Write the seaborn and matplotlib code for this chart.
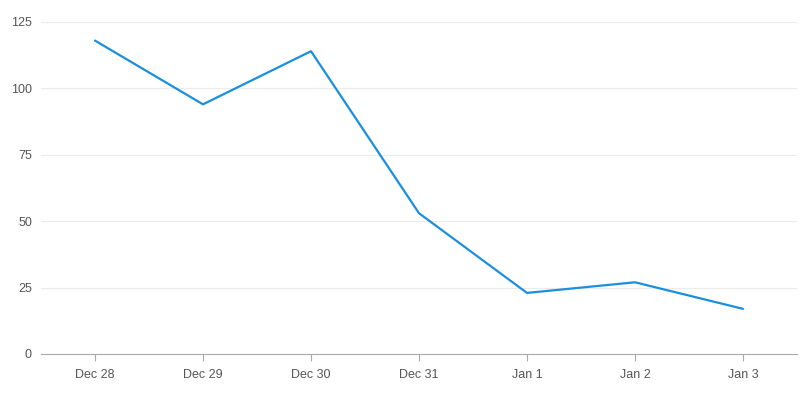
import seaborn as sns
import pandas as pd
import matplotlib.pyplot as plt

days = ["Dec 28", "Dec 29", "Dec 30", "Dec 31", "Jan 1", "Jan 2", "Jan 3"]
values = [118, 94, 114, 53, 23, 27, 17]

df = pd.DataFrame({"day": days, "value": values})

sns.set_style("white")
plt.rcParams['font.family'] = ['Liberation Sans', 'DejaVu Sans']

fig = plt.figure(figsize=(8.07, 4.05), dpi=100)
ax = fig.add_axes([41 / 807, 51 / 405, 756 / 807, 332 / 405])

sns.lineplot(data=df, x="day", y="value", sort=False, color="#1a90dd", linewidth=1.6, ax=ax)

ax.set_xlim(-0.5, 6.5)
ax.set_ylim(0, 125)
ax.set_yticks([0, 25, 50, 75, 100, 125])
ax.set_xlabel("")
ax.set_ylabel("")
ax.grid(axis="y", color="#ebebeb", linewidth=0.8)
ax.set_axisbelow(True)
for s in ["top", "right", "left"]:
    ax.spines[s].set_visible(False)
ax.spines["bottom"].set_color("#aaaaaa")
ax.spines["bottom"].set_zorder(0)
ax.tick_params(axis="x", length=5, color="#aaaaaa", labelcolor="#555555", labelsize=9, pad=6, bottom=True)
ax.tick_params(axis="y", length=0, labelcolor="#555555", labelsize=9, pad=6.5)

fig.savefig("out.png", dpi=100)
